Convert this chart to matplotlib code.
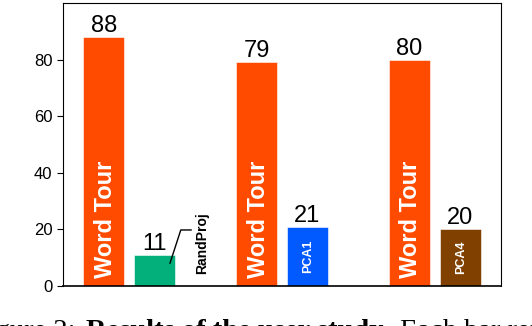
import matplotlib
matplotlib.use('Agg')
import matplotlib.pyplot as plt

plt.rcParams['font.family'] = ['Liberation Sans', 'DejaVu Sans']

# data
positions = [0, 1, 3, 4, 6, 7]
values = [88, 11, 79, 21, 80, 20]
bar_names = ['Word Tour', 'RandProj', 'Word Tour', 'PCA1', 'Word Tour', 'PCA4']
yticks = [0, 20, 40, 60, 80]

RED, GREEN, BLUE, BROWN = '#FF4B00', '#03AF7A', '#005AFF', '#804000'
colors = [RED, GREEN, RED, BLUE, RED, BROWN]

fig = plt.figure(figsize=(5.32, 3.26), dpi=100)
ax = fig.add_axes([0.1184, 0.1227, 0.8233, 0.8681])

ax.bar(positions, values, width=0.8, color=colors,
       edgecolor='white', linewidth=0.4, zorder=2)

for x, v, name in zip(positions, values, bar_names):
    ax.text(x, v, str(v), ha='center', va='bottom', fontsize=17)
    if name == 'Word Tour':
        ax.text(x + 0.03, 3, name, rotation=90, ha='center', va='bottom',
                color='white', fontsize=17, fontweight='bold')
    elif name.startswith('PCA'):
        ax.text(x + 0.02, v / 2, name, rotation=90, ha='center', va='center',
                color='white', fontsize=9, fontweight='bold')
    else:
        # label sits beside the short bar, with a bent leader line
        ax.text(x + 0.925, 4.2, name, rotation=90, ha='center', va='bottom',
                color='black', fontsize=10, fontweight='bold')
        ax.annotate('', xy=(x + 0.3, 8), xytext=(x + 0.72, 19.8),
                    arrowprops=dict(arrowstyle='-', color='black', lw=1,
                                    shrinkA=0, shrinkB=0,
                                    connectionstyle='angle,angleA=0,angleB=72,rad=0'))

ax.set_xlim(-0.8, 7.8)
ax.set_ylim(0, 100)
ax.set_xticks([])
ax.set_yticks(yticks)
ax.tick_params(axis='y', labelsize=12, length=4, width=0.8)
for s in ('top', 'right'):
    ax.spines[s].set_linewidth(0.8)
ax.spines['left'].set_linewidth(0.8)
ax.spines['bottom'].set_linewidth(1.2)

# caption, cut off by the bottom of the image as in the source
cap_y = -12 / 326
serif = ['Liberation Serif', 'DejaVu Serif']
fig.text(75 / 532, cap_y, 'Figure 2:', ha='right', va='baseline',
         fontsize=20.5, family=serif)
fig.text(86 / 532, cap_y, 'Results of the user study.', ha='left', va='baseline',
         fontsize=20.5, family=serif, fontweight='bold')
fig.text(400 / 532, cap_y, 'Each bar represents', ha='left', va='baseline',
         fontsize=20.5, family=serif)

fig.savefig('out.png', dpi=100)
